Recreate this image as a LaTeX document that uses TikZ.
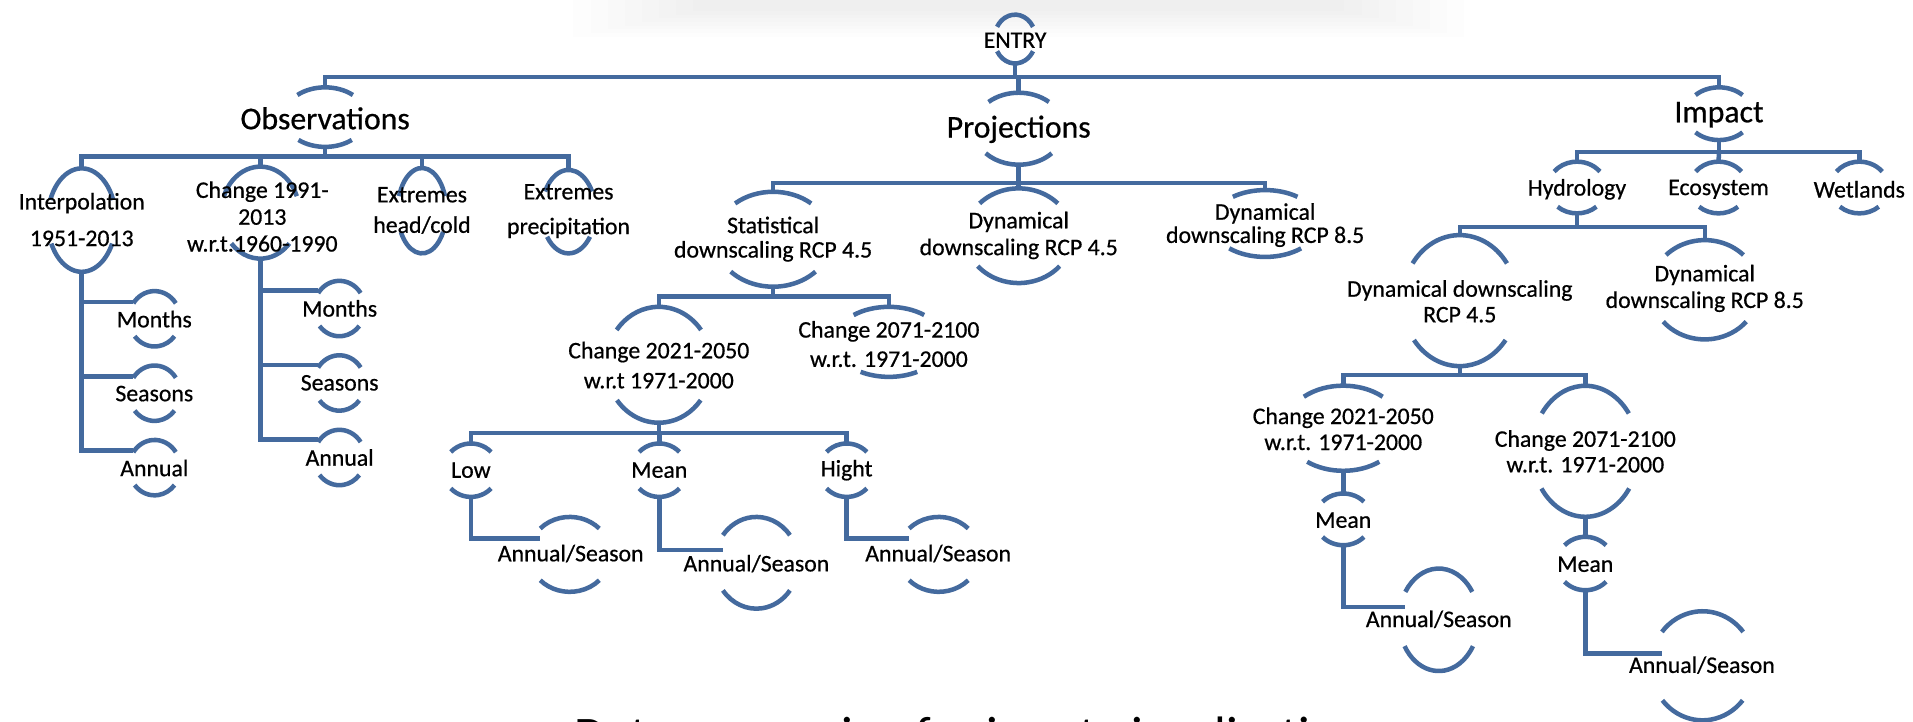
\documentclass[tikz,border=0pt]{standalone}
\usepackage{fontspec}
\setmainfont{Carlito}[FakeBold=0.6]
\newfontfamily\capfont{Carlito}
\definecolor{sblue}{RGB}{68,106,158}
\tikzset{
  conn/.style={draw=sblue, line width=3.7pt},
  arcline/.style={draw=sblue, line width=3.7pt},
  lbl/.style={inner sep=0pt, align=center, font=\fontsize{19.5}{#1}\selectfont},
  lbl/.default=21,
  big/.style={inner sep=0pt, font=\fontsize{26}{30}\selectfont},
}
% name, cx, cy, rx, ry, top gap angle, bottom gap angle, connector height above centre
\newcommand\hub[8]{%
  \coordinate (#1-t) at (#2,{-(#3)+(#5)});
  \coordinate (#1-b) at (#2,{-(#3)-(#5)});
  \coordinate (#1-h) at ({#2-(#4)*cos(#6)},{-(#3)+(#8)});
  \draw[arcline] ({#2+(#4)*cos(#6)},{-(#3)+(#5)*sin(#6)}) arc[start angle=#6,end angle={180-#6},x radius=#4,y radius=#5];
  \draw[arcline] ({#2-(#4)*cos(#7)},{-(#3)-(#5)*sin(#7)}) arc[start angle={180+#7},end angle={360-#7},x radius=#4,y radius=#5];
}
\begin{document}
\begin{tikzpicture}[x=1pt,y=1pt]
\useasboundingbox (0,0) rectangle (1568,-591);
\fill[white] (0,0) rectangle (1568,-591);
% faint shadow at the top
\foreach \i in {0,...,7}{
  \fill[black,opacity=0.009] ({470+\i*14},0) rectangle ({1200-\i*14},{-30+\i*3});
}
% ---------- arcs ----------
\hub{entry}{832}{32}{17}{20}{30}{30}{0}
\hub{obs}{266.5}{96}{34}{24.4}{48}{50}{0}
\hub{proj}{835}{105.5}{37}{29.5}{48}{43}{0}
\hub{imp}{1409}{93.2}{27.3}{21.6}{45}{45}{0}
% observations
\hub{interp}{67}{180.4}{28}{42.4}{23}{27}{0}
\hub{ch91}{213.4}{174.3}{32}{37.7}{21}{42}{0}
\hub{exhc}{345.9}{172.7}{20}{35}{20}{30}{0}
\hub{expr}{466}{173.5}{22}{34.2}{29}{37}{0}
\hub{mi}{126.7}{261.3}{21}{22.7}{34}{39}{13.9}
\hub{si}{126.7}{322.3}{21}{22.7}{34}{39}{13.9}
\hub{ai}{126.7}{383.3}{21}{22.7}{34}{39}{13.9}
\hub{mc}{278.2}{252.9}{21}{22.7}{34}{39}{14.6}
\hub{sc}{278.2}{313.9}{21}{22.7}{34}{39}{14.6}
\hub{ac}{278.2}{375}{21}{22.7}{34}{39}{14.6}
% projections
\hub{stat}{633.7}{196.1}{47.5}{38.9}{49}{43}{0}
\hub{dyn45}{835}{193.2}{43.8}{38.8}{43}{40}{0}
\hub{dyn85}{1037}{183.2}{44}{27.4}{53}{48}{0}
\hub{c21s}{540}{299}{43.3}{47.5}{37}{37.6}{0}
\hub{c71s}{728.6}{280.2}{45}{28.7}{50}{59}{0}
\hub{low}{386}{385.4}{22.6}{21.9}{43}{43}{0}
\hub{mean}{540.4}{385.4}{22.6}{21.9}{43}{43}{0}
\hub{hight}{694}{385.4}{22.6}{21.9}{43}{43}{0}
\hub{asl}{467}{454.4}{33.5}{30.7}{43.7}{43.7}{13}
\hub{asm}{620}{461.3}{34.4}{37.6}{37}{37}{10.3}
\hub{ash}{769.4}{454.4}{33.5}{30.7}{43.7}{43.7}{13}
% impact
\hub{hyd}{1292.6}{153.7}{23.8}{21.2}{38}{48}{0}
\hub{eco}{1408.6}{153.7}{23.8}{21.2}{38}{48}{0}
\hub{wet}{1524}{153.7}{23.8}{21.2}{38}{48}{0}
\hub{dd45}{1196.5}{246.4}{47}{53.7}{34.6}{37}{0}
\hub{dd85}{1397.3}{237.5}{44.4}{40.7}{44.4}{40}{0}
\hub{c21i}{1101}{351}{48}{34.9}{47.7}{52}{0}
\hub{c71i}{1299.4}{369.9}{43.7}{53.7}{35.3}{34.6}{0}
\hub{meani1}{1101}{425.7}{23.2}{21.2}{43}{43}{0}
\hub{meani2}{1299.4}{461.9}{23.3}{21.9}{43}{43}{0}
\hub{asi1}{1179.3}{508}{32.7}{42}{33}{31}{10.5}
\hub{asi2}{1395.5}{545.7}{42.5}{44.7}{38.4}{39.3}{10}
% ---------- connectors ----------
\coordinate (mainbar) at (832,-63);
\draw[conn] (entry-b) -- (mainbar);
\draw[conn] (mainbar) -| (obs-t);
\draw[conn] (mainbar) -| (proj-t);
\draw[conn] (mainbar) -| (imp-t);
\coordinate (obsbar) at (266.5,-128.4);
\draw[conn] (obs-b) -- (obsbar);
\draw[conn] (obsbar) -| (interp-t);
\draw[conn] (obsbar) -| (ch91-t);
\draw[conn] (obsbar) -| (exhc-t);
\draw[conn] (obsbar) -| (expr-t);
\draw[conn] (interp-b) |- (mi-h);
\draw[conn] (interp-b) |- (si-h);
\draw[conn] (interp-b) |- (ai-h);
\draw[conn] (ch91-b) |- (mc-h);
\draw[conn] (ch91-b) |- (sc-h);
\draw[conn] (ch91-b) |- (ac-h);
\coordinate (projbar) at (835,-149.8);
\draw[conn] (proj-b) -- (projbar);
\draw[conn] (projbar) -| (stat-t);
\draw[conn] (projbar) -- (dyn45-t);
\draw[conn] (projbar) -| (dyn85-t);
\coordinate (statbar) at (633.7,-243.2);
\draw[conn] (stat-b) -- (statbar);
\draw[conn] (statbar) -| (c21s-t);
\draw[conn] (statbar) -| (c71s-t);
\coordinate (c21sbar) at (540,-354.8);
\draw[conn] (c21s-b) -- (c21sbar);
\draw[conn] (c21sbar) -| (low-t);
\draw[conn] (c21sbar) -| (mean-t);
\draw[conn] (c21sbar) -| (hight-t);
\draw[conn] (low-b) |- (asl-h);
\draw[conn] (mean-b) |- (asm-h);
\draw[conn] (hight-b) |- (ash-h);
\coordinate (impbar) at (1409,-124.4);
\draw[conn] (imp-b) -- (impbar);
\draw[conn] (impbar) -| (hyd-t);
\draw[conn] (impbar) -- (eco-t);
\draw[conn] (impbar) -| (wet-t);
\coordinate (hydbar) at (1292.6,-185.9);
\draw[conn] (hyd-b) -- (hydbar);
\draw[conn] (hydbar) -| (dd45-t);
\draw[conn] (hydbar) -| (dd85-t);
\coordinate (ddbar) at (1196.5,-307.5);
\draw[conn] (dd45-b) -- (ddbar);
\draw[conn] (ddbar) -| (c21i-t);
\draw[conn] (ddbar) -| (c71i-t);
\draw[conn] (c21i-b) -- (meani1-t);
\draw[conn] (c71i-b) -- (meani2-t);
\draw[conn] (meani1-b) |- (asi1-h);
\draw[conn] (meani2-b) |- (asi2-h);
% ---------- texts ----------
\node[lbl] (entry) at (832,-33) {ENTRY};
\node[big] (obs) at (266.5,-97) {Observations};
\node[big] (proj) at (835,-106) {Projections};
\node[big] (imp) at (1409,-94) {Impact};
\node[lbl=30] (interp) at (67,-180) {Interpolation\\1951-2013};
\node[lbl=22] (ch91) at (215,-177.5) {Change 1991-\\2013\\w.r.t.1960-1990};
\node[lbl=25] (exhc) at (345.9,-172.5) {Extremes\\head/cold};
\node[lbl=28.5] (expr) at (466,-173) {Extremes\\precipitation};
\node[lbl] (mi) at (126.5,-261.6) {Months};
\node[lbl] (si) at (126.5,-322.6) {Seasons};
\node[lbl] (ai) at (126.5,-383.6) {Annual};
\node[lbl] (mc) at (278.4,-252.8) {Months};
\node[lbl] (sc) at (278.4,-313.8) {Seasons};
\node[lbl] (ac) at (278.4,-375) {Annual};
\node[lbl=20] (stat) at (633.7,-196) {Statistical\\downscaling RCP 4.5};
\node[lbl=22] (dyn45) at (835,-193) {Dynamical\\downscaling RCP 4.5};
\node[lbl=19] (dyn85) at (1037,-184.5) {Dynamical\\downscaling RCP 8.5};
\node[lbl=24.6] (c21s) at (540,-299.3) {Change 2021-2050\\w.r.t 1971-2000};
\node[lbl=24] (c71s) at (728.6,-282) {Change 2071-2100\\w.r.t. 1971-2000};
\node[lbl] (low) at (386,-385.4) {Low};
\node[lbl] (mean) at (540.4,-385.4) {Mean};
\node[lbl] (hight) at (694,-385.4) {Hight};
\node[lbl] (asl) at (467.8,-453.7) {Annual/Season};
\node[lbl] (asm) at (620,-462) {Annual/Season};
\node[lbl] (ash) at (769,-453.7) {Annual/Season};
\node[lbl] (hyd) at (1292.6,-155.2) {Hydrology};
\node[lbl] (eco) at (1408.6,-155.2) {Ecosystem};
\node[lbl] (wet) at (1524,-155.2) {Wetlands};
\node[lbl=21] (dd45) at (1196.5,-247) {Dynamical downscaling\\RCP 4.5};
\node[lbl=21.8] (dd85) at (1397.3,-236.4) {Dynamical\\downscaling RCP 8.5};
\node[lbl=21.3] (c21i) at (1101,-351.5) {Change 2021-2050\\w.r.t. 1971-2000};
\node[lbl=21] (c71i) at (1299.4,-370) {Change 2071-2100\\w.r.t. 1971-2000};
\node[lbl] (meani1) at (1101,-426.4) {Mean};
\node[lbl] (meani2) at (1299.4,-462.5) {Mean};
\node[lbl] (asi1) at (1179.3,-507.6) {Annual/Season};
\node[lbl] (asi2) at (1395,-545.2) {Annual/Season};
% ---------- cut-off caption ----------
\begin{scope}
\clip (0,0) rectangle (1568,-591);
\node[anchor=base west, inner sep=0pt, font=\capfont\fontsize{42}{46}\selectfont] (caption) at (471,-616.5) {Data processing for input visualization};
\end{scope}
\end{tikzpicture}
\end{document}
